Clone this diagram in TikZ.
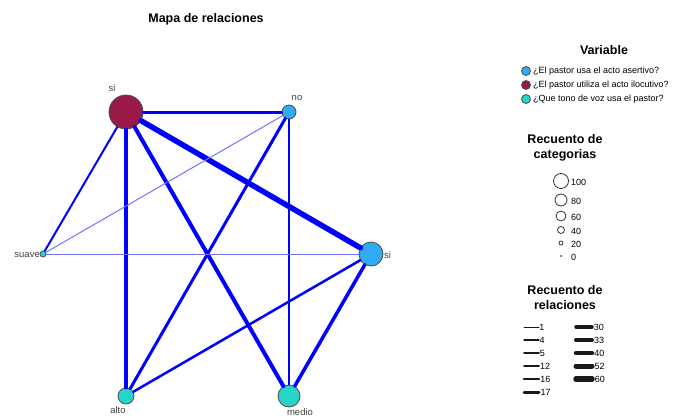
\documentclass[tikz,border=0pt]{standalone}
\usepackage{fontspec}
\setmainfont{Liberation Sans}
\usepackage{tikz}
\usetikzlibrary{arrows}
\usetikzlibrary{positioning}

\definecolor{asertivo}{RGB}{51,170,245}
\definecolor{ilocutivo}{RGB}{155,25,72}
\definecolor{tono}{RGB}{40,212,200}
\definecolor{rim}{RGB}{70,80,80}

\tikzset{
  cat/.style={circle,draw=rim,line width=.8pt,inner sep=0pt},
  rel/.style={draw=blue,line cap=round},
  lbl/.style={font=\fontsize{9.5}{10}\selectfont,text=black!75,inner sep=1pt},
  head/.style={font=\bfseries\fontsize{12.5}{15}\selectfont,align=center},
  keytxt/.style={font=\fontsize{9}{10}\selectfont,anchor=west,inner sep=1pt},
  keyline/.style={line cap=round,draw=black!90},
  keycirc/.style={circle,draw=black!80,line width=.8pt,inner sep=0pt}
}

\begin{document}
\begin{tikzpicture}[x=1pt,y=-1pt]
 \useasboundingbox (0,0) rectangle (686,418);
 \node[head] (titulo) at (206,19) {Mapa de relaciones};

 \node[cat,fill=ilocutivo,minimum size=34pt] (siI) at (126,112) {};
 \node[cat,fill=asertivo,minimum size=14pt] (no) at (289,112) {};
 \node[cat,fill=asertivo,minimum size=24pt] (siA) at (371,254) {};
 \node[cat,fill=tono,minimum size=6pt] (suave) at (43,254) {};
 \node[cat,fill=tono,minimum size=16pt] (alto) at (126,396) {};
 \node[cat,fill=tono,minimum size=22pt] (medio) at (289,396) {};

 \node[lbl] at (112,88) {si};
 \node[lbl] at (297,98) {no};
 \node[lbl,anchor=west] at (383,255) {si};
 \node[lbl,anchor=east] at (41,255) {suave};
 \node[lbl] at (118,410) {alto};
 \node[lbl] at (300,412) {medio};

 \draw[rel,line width=5.5pt] (siI) -- (siA);
 \draw[rel,line width=4pt] (siI) -- (medio);
 \draw[rel,line width=3.5pt] (siI) -- (alto);
 \draw[rel,line width=3pt] (siI) -- (no);
 \draw[rel,line width=2pt] (siI) -- (suave);
 \draw[rel,line width=3pt] (no) -- (alto);
 \draw[rel,line width=2pt] (no) -- (medio);
 \draw[rel,draw=blue!55,line width=1pt] (no) -- (suave);
 \draw[rel,draw=blue!55,line width=1pt] (suave) -- (siA);
 \draw[rel,line width=3.5pt] (siA) -- (medio);
 \draw[rel,line width=2.5pt] (siA) -- (alto);

 % leyenda
 \node[head] (variable) at (604,50) {Variable};
 \node[cat,fill=asertivo,minimum size=9pt] (v1) at (526,71) {};
 \node[keytxt,right=1pt of v1] {¿El pastor usa el acto asertivo?};
 \node[cat,fill=ilocutivo,minimum size=9pt] (v2) at (526,85) {};
 \node[keytxt,right=1pt of v2] {¿El pastor utiliza el acto ilocutivo?};
 \node[cat,fill=tono,minimum size=9pt] (v3) at (526,99) {};
 \node[keytxt,right=1pt of v3] {¿Que tono de voz usa el pastor?};

 \node[head] (categorias) at (565,148) {Recuento de\\categorias};
 \node[keycirc,minimum size=15pt] (c100) at (561,181) {};
 \node[keytxt] at (570,182) {100};
 \node[keycirc,minimum size=12pt] (c80) at (561,200) {};
 \node[keytxt] at (570,201) {80};
 \node[keycirc,minimum size=10pt] (c60) at (561,216) {};
 \node[keytxt] at (570,217) {60};
 \node[keycirc,minimum size=7pt] (c40) at (561,230) {};
 \node[keytxt] at (570,231) {40};
 \node[keycirc,minimum size=4pt] (c20) at (561,243) {};
 \node[keytxt] at (570,244) {20};
 \node[circle,fill=black!80,minimum size=2pt,inner sep=0pt] (c0) at (561,256) {};
 \node[keytxt] at (570,257) {0};

 \node[head] (relaciones) at (565,298) {Recuento de\\relaciones};
 \draw[keyline,line width=.8pt] (524,327) -- (539,327) node[keytxt,inner sep=0pt] {1};
 \draw[keyline,line width=1.2pt] (524,340) -- (539,340) node[keytxt,inner sep=0pt] {4};
 \draw[keyline,line width=1.5pt] (524,353) -- (539,353) node[keytxt,inner sep=0pt] {5};
 \draw[keyline,line width=2pt] (524,366) -- (539,366) node[keytxt,inner sep=0pt] {12};
 \draw[keyline,line width=2.5pt] (524,379) -- (539,379) node[keytxt,inner sep=0pt] {16};
 \draw[keyline,line width=3pt] (524,392) -- (539,392) node[keytxt,inner sep=0pt] {17};
 \draw[keyline,line width=3.5pt] (576,327) -- (592,327) node[keytxt,inner sep=0pt] {30};
 \draw[keyline,line width=4pt] (576,340) -- (592,340) node[keytxt,inner sep=0pt] {33};
 \draw[keyline,line width=4.5pt] (576,353) -- (592,353) node[keytxt,inner sep=0pt] {40};
 \draw[keyline,line width=5pt] (576,366) -- (592,366) node[keytxt,inner sep=0pt] {52};
 \draw[keyline,line width=5.5pt] (576,379) -- (592,379) node[keytxt,inner sep=0pt] {60};
\end{tikzpicture}
\end{document}
